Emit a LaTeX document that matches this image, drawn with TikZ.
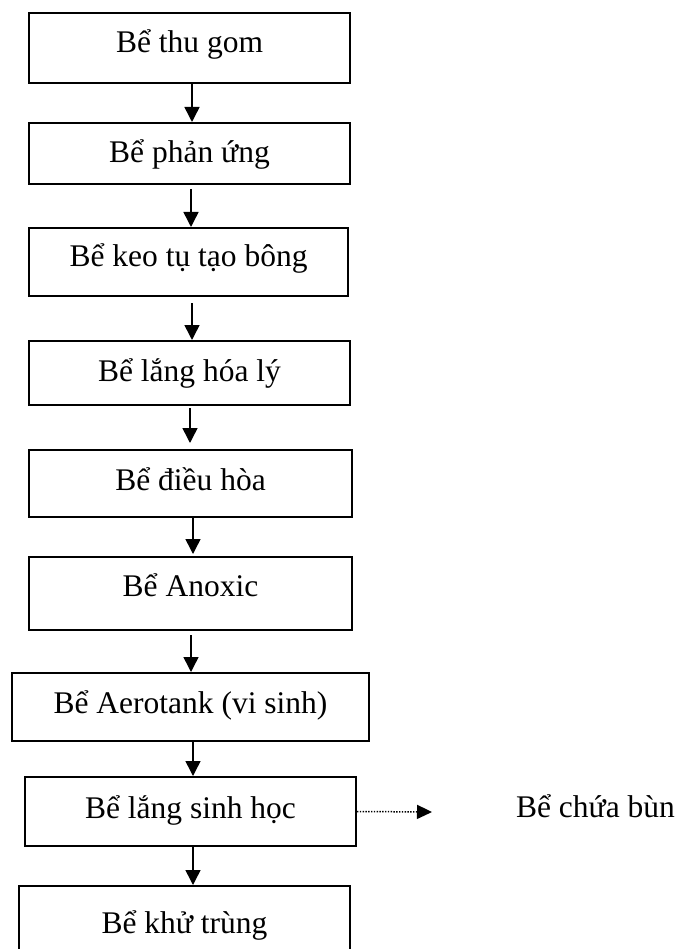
\documentclass[tikz,border=0pt]{standalone}
\usepackage{fontspec}
\setmainfont{Liberation Serif}
\usetikzlibrary{arrows.meta}
\begin{document}
\begin{tikzpicture}[x=1pt,y=-1pt,
  box/.style={draw, line width=2pt, rectangle, inner sep=0pt, font=\fontsize{31.5}{36}\selectfont},
  arr/.style={line width=1.5pt, -{Triangle[length=15pt,width=15pt]}},
  dotarr/.style={line width=1.5pt, dash pattern=on 1.4pt off 1.4pt, -{Triangle[length=15pt,width=14pt]}},
  lbl/.style={inner sep=0pt, text height=20pt, text depth=8pt, font=\fontsize{31.5}{36}\selectfont}]
\clip (0,0) rectangle (681,949);
\node[box, minimum width=321pt, minimum height=70pt, text height=19pt, text depth=9pt] (b1) at (189.5,48) {Bể thu gom};
\node[box, minimum width=321pt, minimum height=61pt, text height=23.5pt, text depth=4.5pt] (b2) at (189.5,153.5) {Bể phản ứng};
\node[box, minimum width=319pt, minimum height=68pt, text height=18.7pt, text depth=9.3pt] (b3) at (188.5,262) {Bể keo tụ tạo bông};
\node[box, minimum width=321pt, minimum height=64pt, text height=22.7pt, text depth=5.3pt] (b4) at (189.5,373) {Bể lắng hóa lý};
\node[box, minimum width=323pt, minimum height=67pt, text height=20.5pt, text depth=7.5pt] (b5) at (190.5,483.5) {Bể điều hòa};
\node[box, minimum width=323pt, minimum height=73pt, text height=16.5pt, text depth=11.5pt] (b6) at (190.5,593.5) {Bể Anoxic};
\node[box, minimum width=357pt, minimum height=68pt, text height=20pt, text depth=8pt] (b7) at (190.5,707) {Bể Aerotank (vi sinh)};
\node[box, minimum width=331pt, minimum height=69pt, text height=20.5pt, text depth=7.5pt] (b8) at (190.5,811.5) {Bể lắng sinh học};
\node[box, minimum width=331pt, minimum height=82pt, text height=20pt, text depth=8pt] (b9) at (184.5,927) {Bể khử trùng};
\node[lbl] (bun) at (595.5,811) {Bể chứa bùn};
\coordinate (tip) at (432,812);

\draw[arr] ([xshift=2.5pt]b1.south) -- ([xshift=2.5pt]b2.north);
\draw[arr, shorten <=4pt] ([xshift=1.5pt]b2.south) -- ([xshift=2.5pt]b3.north);
\draw[arr, shorten <=6pt] ([xshift=3.5pt]b3.south) -- ([xshift=2.5pt]b4.north);
\draw[arr, shorten <=2pt, shorten >=6pt] ([xshift=0.5pt]b4.south) -- ([xshift=-0.5pt]b5.north);
\draw[arr, shorten >=2pt] ([xshift=2.5pt]b5.south) -- ([xshift=2.5pt]b6.north);
\draw[arr, shorten <=4pt] ([xshift=0.5pt]b6.south) -- ([xshift=0.5pt]b7.north);
\draw[arr] ([xshift=2.5pt]b7.south) -- ([xshift=2.5pt]b8.north);
\draw[arr] ([xshift=2.5pt]b8.south) -- ([xshift=8.5pt]b9.north);
\draw[dotarr] (b8.east) -- (tip);
\end{tikzpicture}
\end{document}
